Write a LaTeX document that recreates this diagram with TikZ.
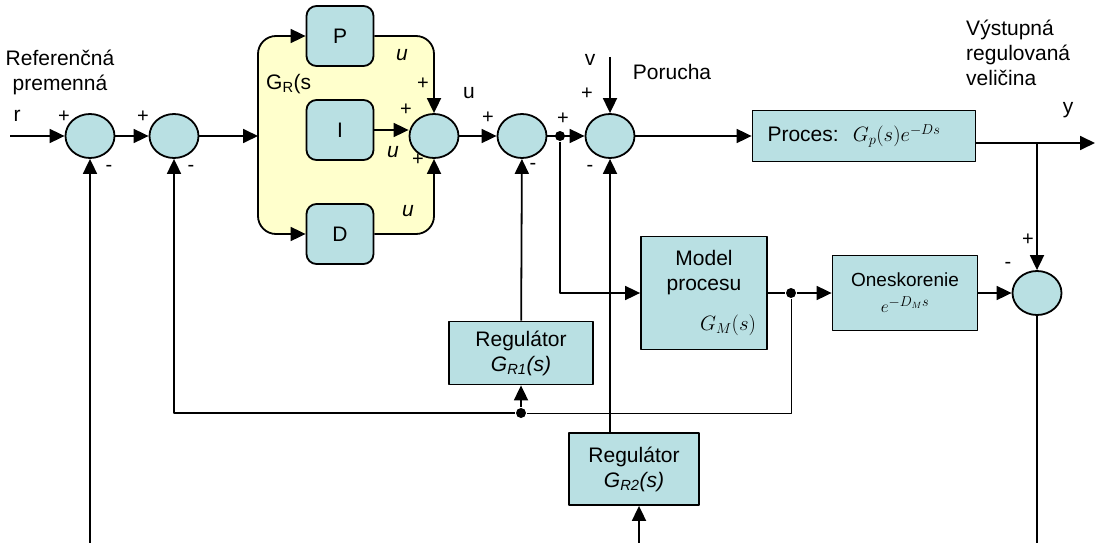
\documentclass[tikz,border=0pt]{standalone}
\usepackage{fontspec}
\setmainfont{Liberation Sans}
\usetikzlibrary{arrows.meta,shapes.geometric}
\definecolor{boxcol}{RGB}{185,224,227}
\definecolor{ylw}{RGB}{255,255,204}
\begin{document}
\begin{tikzpicture}[x=1pt,y=-1pt,>={Triangle[length=15pt,width=14pt]},font=\fontsize{21}{25}\selectfont,line width=1.8pt,line join=round,
 sum/.style={ellipse,draw,fill=boxcol,minimum width=49pt,minimum height=44pt,inner sep=0pt},
 blk/.style={rectangle,draw,fill=boxcol,inner sep=0pt,align=center},
 pid/.style={rectangle,rounded corners=10pt,draw,fill=boxcol,minimum width=67pt,minimum height=60pt},
 sgn/.style={font=\fontsize{20}{20}\selectfont,inner sep=0pt},
 dot/.style={circle,fill,inner sep=0pt,minimum size=10pt}]
\useasboundingbox (0,0) rectangle (1095,543);
\fill[ylw,rounded corners=18pt] (258,36) rectangle (434,234);
\node[sum] (s1) at (90,136) {};
\node[sum] (s2) at (174,136) {};
\node[sum] (s3) at (434,136) {};
\node[sum] (s4) at (522,136) {};
\node[sum] (s5) at (610,136) {};
\node[sum] (s6) at (1037,293) {};
\node[pid] (P) at (340,36) {P};
\node[pid] (I) at (340,130) {I};
\node[pid] (D) at (340,234) {D};
\node[blk,minimum width=223pt,minimum height=51pt] (proc) at (864,136) {Proces:\hspace{14pt}$G_p(s)e^{-Ds}$\hspace{20pt}};
\node[blk,minimum width=126pt,minimum height=113pt] (model) at (704,293) {Model\\procesu\\[15pt]\hspace*{48pt}$G_M(s)$};
\node[blk,minimum width=145pt,minimum height=75pt,font=\fontsize{19}{22}\selectfont] (delay) at (905,293) {Oneskorenie\\[4pt]$e^{-D_M s}$};
\node[blk,minimum width=144pt,minimum height=63pt] (reg1) at (521,353) {Regulátor\\\textit{G\textsubscript{R1}(s)}};
\node[blk,minimum width=130pt,minimum height=72pt] (reg2) at (634,469) {Regulátor\\\textit{G\textsubscript{R2}(s)}};
\node[dot] (d4) at (560,136) {};
\node[dot] (dM) at (791,293) {};
\node[dot] (fb) at (521,413) {};
\coordinate (rin) at (10,136);
\coordinate (gin) at (258,136);
\coordinate (vin) at (610,57);
\coordinate (yo) at (1095,143);
\coordinate (yb) at (1037,143);
\coordinate (b1) at (90,543);
\coordinate (b2) at (639,543);
\coordinate (b6) at (1037,543);
\draw[->] (rin) -- (s1);
\draw[->] (s1) -- (s2);
\draw[->] (s2) -- (gin);
\draw[<->,rounded corners=18pt] (P.west) -- (gin |- P) -- (gin |- D) -- (D.west);
\draw[->,rounded corners=18pt] (P.east) -| (s3.north);
\draw[->,rounded corners=18pt] (D.east) -| (s3.south);
\draw[->] (I.east) -- (I.east -| s3.west);
\draw[->] (s3) -- (s4);
\draw[->] (s4) -- (s5);
\draw[->] (vin) -- (s5);
\draw[->] (s5) -- (proc);
\draw[->] (proc.east |- yo) -- (yo);
\draw[->] (yb) -- (s6);
\draw (s6) -- (b6);
\draw[->] (d4) |- (model);
\draw (model) -- (dM);
\draw[->] (dM) -- (delay);
\draw[->] (delay) -- (s6);
\draw[line width=0.8pt] (dM) |- (fb);
\draw[->] (fb) -| (s2);
\draw[->] (fb) -- (reg1);
\draw[->] (reg1) -- (s4);
\draw[->] (reg2.north -| s5) -- (s5);
\draw[->] (b2) -- (b2 |- reg2.south);
\draw[->] (b1) -- (s1);
\node[align=center] (lref) at (60,72) {Referenčná\\premenná};
\node (lr) at (17,116) {r};
\node[anchor=west] (lgr) at (262,84) {G\textsubscript{R}(s};
\node (lu1) at (402,55) {\textit{u}};
\node (lu2) at (393,152) {\textit{u}};
\node (lu3) at (408,211) {\textit{u}};
\node (lu) at (469,93) {u};
\node (lv) at (590,60) {v};
\node (lpor) at (672,72) {Porucha};
\node[align=left,anchor=west] (lout) at (962,53) {Výstupná\\regulovaná\\veličina};
\node (ly) at (1068,110) {y};
\foreach \x/\y/\t [count=\i] in {64/117/+,109/168/-,143/117/+,191/168/-,423/84/+,406/110/+,418/160/+,488/118/+,533/166/-,563/119/+,587/94/+,590/168/-,1028/240/+,1008/265/-}
  \node[sgn] (sg\i) at (\x,\y) {\t};
\end{tikzpicture}
\end{document}
